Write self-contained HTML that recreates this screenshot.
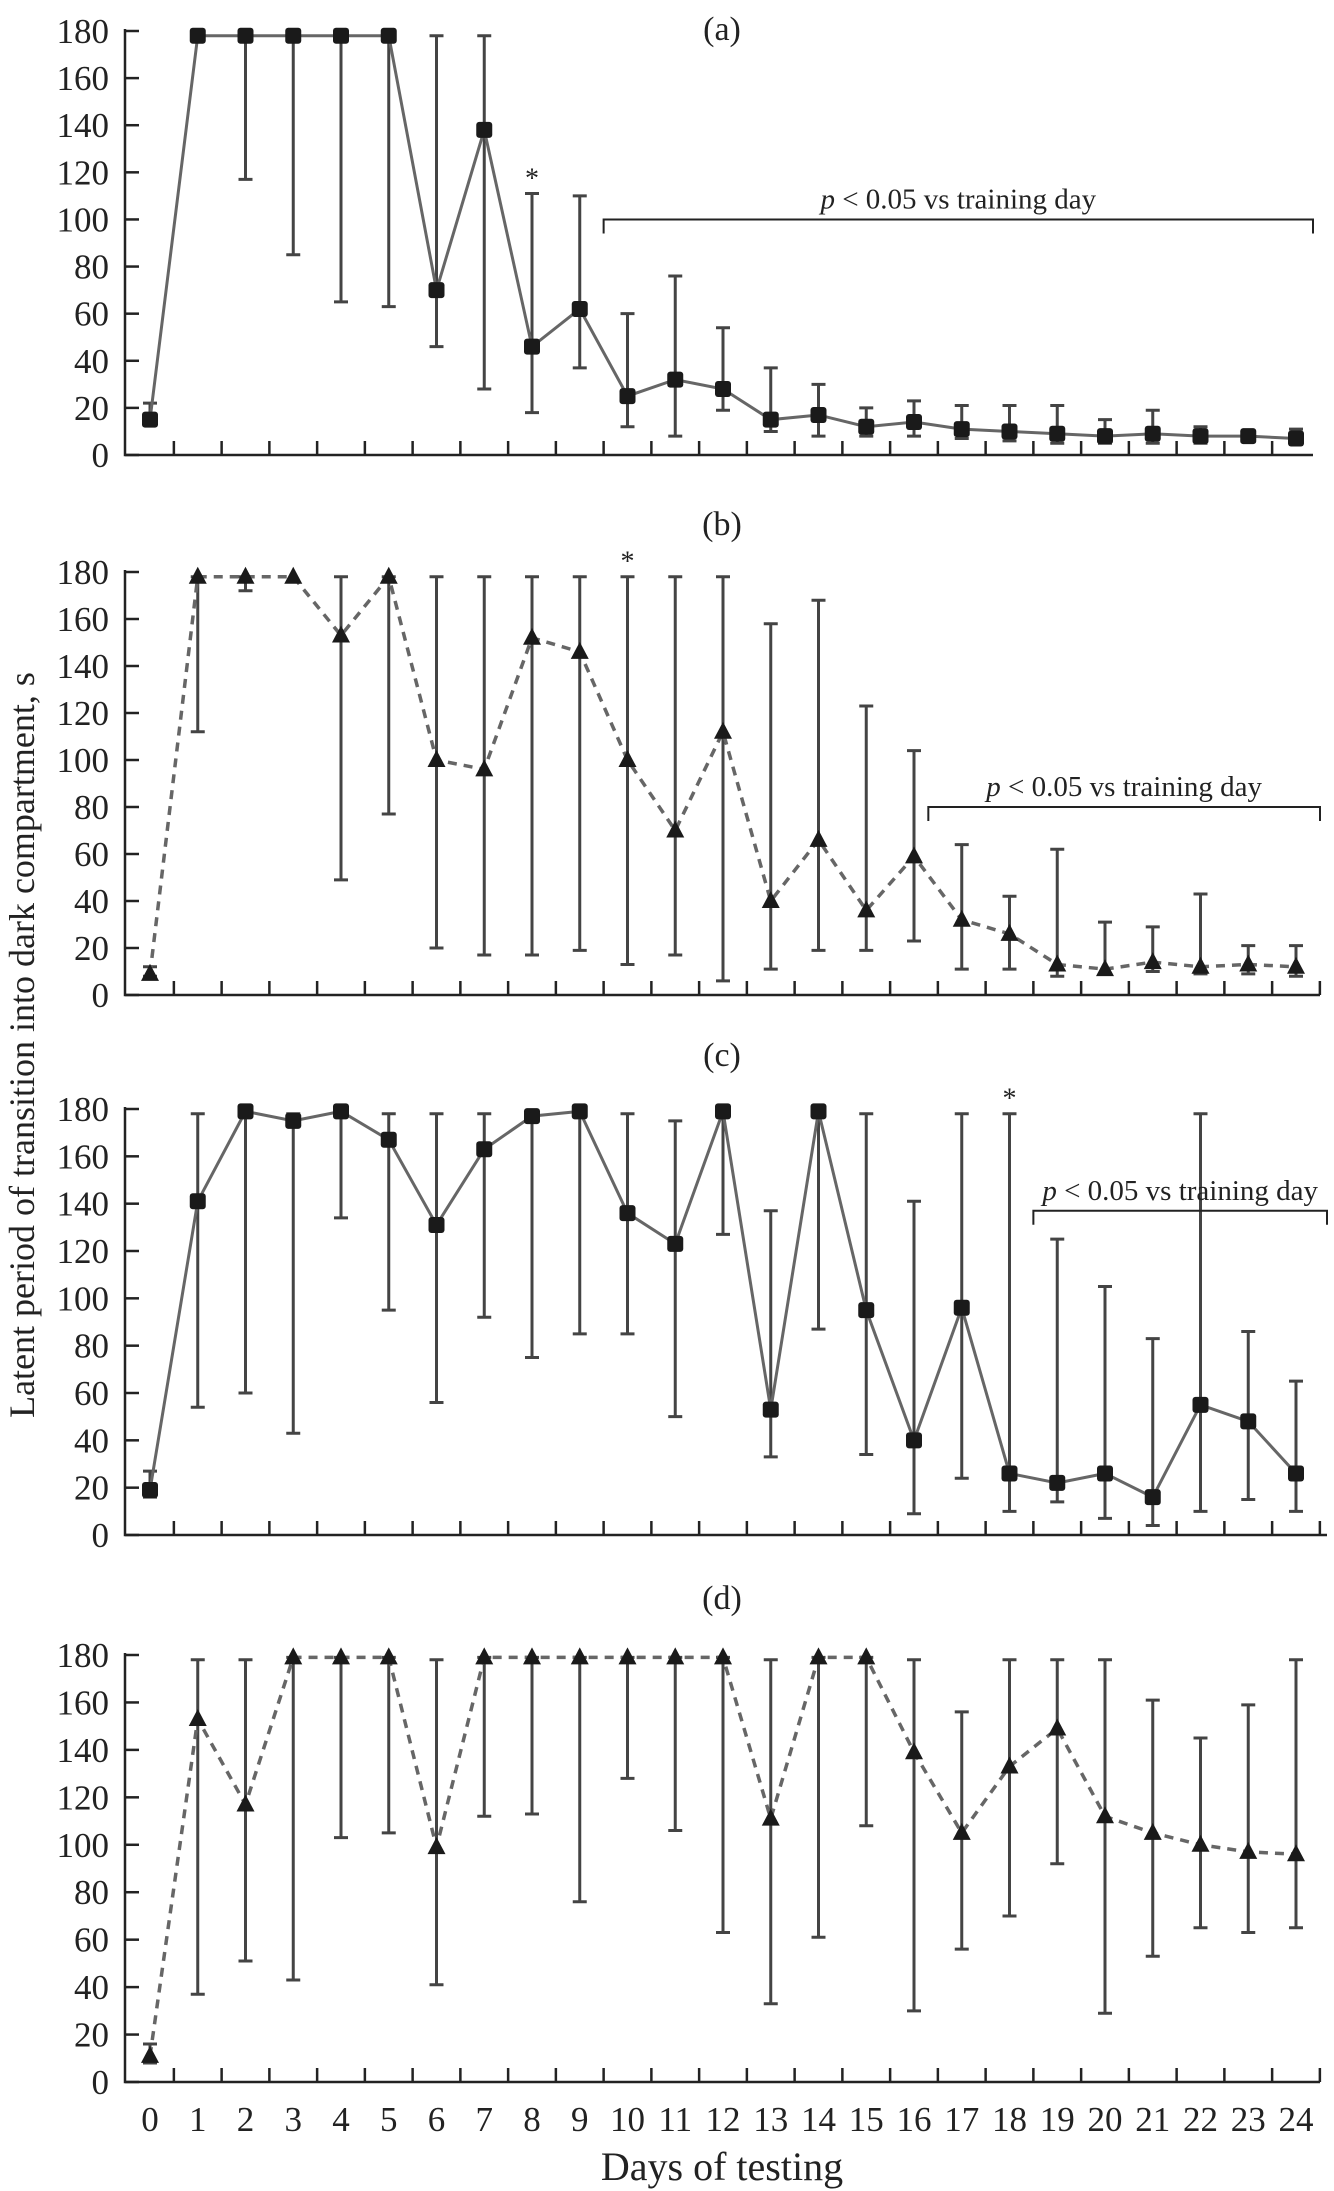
<!DOCTYPE html>
<html><head><meta charset="utf-8"><style>
html,body{margin:0;padding:0;background:#fff;}
svg{display:block;font-family:"Liberation Serif",serif;}
</style></head><body>
<svg id="chart" width="1334" height="2191" viewBox="0 0 1334 2191" xmlns="http://www.w3.org/2000/svg">
<text x="0" y="0" transform="translate(34,1045) rotate(-90)" text-anchor="middle" font-size="36" fill="#222">Latent period of transition into dark compartment, s</text>
<text x="722" y="2180" text-anchor="middle" font-size="40" fill="#222">Days of testing</text>
</svg>
<script>
const days = [0,1,2,3,4,5,6,7,8,9,10,11,12,13,14,15,16,17,18,19,20,21,22,23,24];
const yTicks = [0,20,40,60,80,100,120,140,160,180];
const meanA = [15,178,178,178,178,178,70,138,46,62,25,32,28,15,17,12,14,11,10,9,8,9,8,8,7];
const upA   = [22,178,178,178,178,178,178,178,111,110,60,76,54,37,30,20,23,21,21,21,15,19,12,10,11];
const lowA  = [14,178,117,85,65,63,46,28,18,37,12,8,19,10,8,8,8,7,6,5,5,5,5,6,5];
const meanB = [9,178,178,178,153,178,100,96,152,146,100,70,112,40,66,36,59,32,26,13,11,14,12,13,12];
const upB   = [12,178,178,178,178,178,178,178,178,178,178,178,178,158,168,123,104,64,42,62,31,29,43,21,21];
const lowB  = [8,112,172,178,49,77,20,17,17,19,13,17,6,11,19,19,23,11,11,8,9,10,9,9,8];
const meanC = [19,141,179,175,179,167,131,163,177,179,136,123,179,53,179,95,40,96,26,22,26,16,55,48,26];
const upC   = [27,178,180,178,180,178,178,178,178,180,178,175,180,137,180,178,141,178,178,125,105,83,178,86,65];
const lowC  = [16,54,60,43,134,95,56,92,75,85,85,50,127,33,87,34,9,24,10,14,7,4,10,15,10];
const meanD = [11,153,117,179,179,179,99,179,179,179,179,179,179,111,179,179,139,105,133,149,112,105,100,97,96];
const upD   = [16,178,178,179,179,179,178,179,179,179,179,179,179,178,179,179,178,156,178,178,178,161,145,159,178];
const lowD  = [8,37,51,43,103,105,41,112,113,76,128,106,63,33,61,108,30,56,70,92,29,53,65,63,65];
const starDay = [8,10,18,null];
const bracketFrom = [9.5,16.3,18.5,null];
const bracketVal = [100,80,137,null];

const panels = [
 {id:'a', top:31, bot:455, titleY:40, mean:meanA, up:upA, low:lowA, marker:'square', dashed:false, axisEnd:1313},
 {id:'b', top:572, bot:995, titleY:535, mean:meanB, up:upB, low:lowB, marker:'triangle', dashed:true, axisEnd:1320},
 {id:'c', top:1109, bot:1535, titleY:1066, mean:meanC, up:upC, low:lowC, marker:'square', dashed:false, axisEnd:1327},
 {id:'d', top:1655, bot:2082, titleY:1609, mean:meanD, up:upD, low:lowD, marker:'triangle', dashed:true, axisEnd:1320}
];
const svg = document.getElementById('chart');
const NS = 'http://www.w3.org/2000/svg';
function mk(tag, attrs, parent){
  const e = document.createElementNS(NS, tag);
  for (const k in attrs) e.setAttribute(k, attrs[k]);
  (parent||svg).appendChild(e);
  return e;
}
const x0 = 150, dx = 47.75, axisX = 125;
function xs(d){ return x0 + dx*d; }
panels.forEach((p, pi) => {
  const ys = v => p.bot - (v/180)*(p.bot - p.top);
  const g = mk('g', {});
  
  
  const t = mk('text', {x:722, y:p.titleY, 'text-anchor':'middle', 'font-size':34, fill:'#222'}, g);
  t.textContent = '(' + p.id + ')';
  
  
  const ax = mk('path', {d:`M${axisX} ${p.top-2} V${p.bot} H${p.axisEnd}`, fill:'none', stroke:'#222', 'stroke-width':2.5}, g);
  
  
  yTicks.forEach(v => {
    const y = ys(v);
    mk('line', {x1:axisX, x2:axisX+14, y1:y, y2:y, stroke:'#222', 'stroke-width':2.5}, g);
    const lb = mk('text', {x:axisX-16, y:y+12, 'text-anchor':'end', 'font-size':35, fill:'#222'}, g);
    lb.textContent = v;
    
    
  });
  days.forEach(d => {
    const tx = xs(d) + dx/2;
    if (tx <= p.axisEnd + 2) mk('line', {x1:tx, x2:tx, y1:p.bot, y2:p.bot-14, stroke:'#222', 'stroke-width':2.5}, g);
    if (pi === 3) {
      const lb = mk('text', {x:xs(d), y:2131, 'text-anchor':'middle', 'font-size':35, fill:'#222'}, g);
      lb.textContent = d;
      
      
    }
  });
  days.forEach((d, i) => {
    const x = xs(d), yu = ys(p.up[i]), yl = ys(p.low[i]);
    if (Math.abs(yu - yl) < 1) return;
    const eb = mk('path', {d:`M${x} ${yu} V${yl} M${x-7} ${yu} H${x+7} M${x-7} ${yl} H${x+7}`, stroke:'#444', 'stroke-width':3, fill:'none'}, g);
    
    
  });
  const pts = days.map((d,i) => xs(d) + ',' + ys(p.mean[i])).join(' ');
  const ln = mk('polyline', {points:pts, fill:'none', stroke:'#666', 'stroke-width':p.dashed?3.5:3, 'stroke-dasharray':p.dashed?'9 7':'none'}, g);
  
  
  days.forEach((d, i) => {
    const x = xs(d), y = ys(p.mean[i]);
    let m;
    if (p.marker === 'square') m = mk('rect', {x:x-8, y:y-8, width:16, height:16, rx:3, fill:'#1a1a1a'}, g);
    else m = mk('polygon', {points:`${x},${y-10} ${x-9},${y+7} ${x+9},${y+7}`, fill:'#1a1a1a'}, g);
    
    
  });
  if (starDay[pi] !== null) {
    const s = mk('text', {x:xs(starDay[pi]), y:ys(p.up[starDay[pi]]) - 6, 'text-anchor':'middle', 'font-size':28, fill:'#222'}, g);
    s.textContent = '*';
    
    
  }
  if (bracketFrom[pi] !== null) {
    const bx1 = xs(bracketFrom[pi]), bx2 = p.axisEnd, by = ys(bracketVal[pi]);
    const br = mk('path', {d:`M${bx1} ${by+14} V${by} H${bx2} V${by+14}`, fill:'none', stroke:'#222', 'stroke-width':2}, g);
    
    
    const bt = mk('text', {x:(bx1+bx2)/2, y:by-11, 'text-anchor':'middle', 'font-size':29, fill:'#222'}, g);
    bt.innerHTML = '<tspan font-style="italic">p</tspan> &lt; 0.05 vs training day';
    
    
  }
});
</script>
</body></html>
